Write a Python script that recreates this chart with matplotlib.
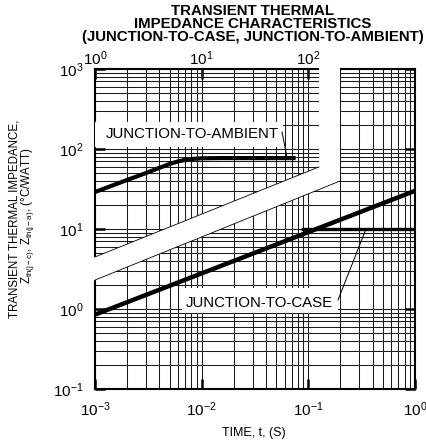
import matplotlib
matplotlib.use('Agg')
import matplotlib.pyplot as plt
import numpy as np
from matplotlib.patches import Polygon, Rectangle

plt.rcParams['font.family'] = ['Liberation Sans', 'DejaVu Sans']
plt.rcParams['mathtext.fontset'] = 'custom'
plt.rcParams['mathtext.rm'] = 'Liberation Sans'
plt.rcParams['mathtext.it'] = 'Liberation Sans:italic'
plt.rcParams['mathtext.bf'] = 'Liberation Sans:bold'

# ---------------- data ----------------
# junction-to-case (bottom time axis, seconds)
case_t = [1e-3, 1.0]
case_z = [0.85, 30.0]
case_flat_t = [0.085, 1.0]
case_flat_z = [10.0, 10.0]
# junction-to-ambient (top time axis, seconds)
amb_t = [1, 2, 3, 4, 5, 6, 7, 8, 10, 15, 30, 76]
amb_z = [29, 41, 50, 58, 65, 70, 73, 75, 76.5, 77, 77, 77]

bottom_ticks = [1e-3, 1e-2, 1e-1, 1]
bottom_labels = [r'$\mathregular{10^{-3}}$', r'$\mathregular{10^{-2}}$',
                 r'$\mathregular{10^{-1}}$', r'$\mathregular{10^{0}}$']
top_ticks = [1, 10, 100]
top_labels = [r'$\mathregular{10^{0}}$', r'$\mathregular{10^{1}}$', r'$\mathregular{10^{2}}$']
y_ticks = [0.1, 1, 10, 100, 1000]
y_labels = [r'$\mathregular{10^{-1}}$', r'$\mathregular{10^{0}}$', r'$\mathregular{10^{1}}$',
            r'$\mathregular{10^{2}}$', r'$\mathregular{10^{3}}$']

TOP_SHIFT = 1e3  # top axis = bottom axis x 1000

fig = plt.figure(figsize=(4.27, 4.42), dpi=100)
ax = fig.add_axes([95/427, 53/442, 320/427, 320/442])
ax.set_xscale('log')
ax.set_yscale('log')
ax.set_xlim(1e-3, 1)
ax.set_ylim(0.1, 1000)

ax.grid(True, which='both', color='#1a1a1a', lw=0.75)
ax.set_xticks(bottom_ticks, bottom_labels)
ax.set_yticks(y_ticks, y_labels)
ax.tick_params(which='major', direction='in', length=7, width=1.8,
               right=True, top=False, labelsize=11, pad=8)
ax.tick_params(which='minor', length=0)
for s in ax.spines.values():
    s.set_linewidth(1.5)

sec = ax.secondary_xaxis('top', functions=(lambda x: x*TOP_SHIFT, lambda x: x/TOP_SHIFT))
sec.set_xticks(top_ticks, top_labels)
sec.tick_params(which='major', direction='in', length=7, width=1.8, labelsize=11, pad=1)
sec.tick_params(which='minor', length=0)
sec.spines['top'].set_visible(False)

# ---------------- break band ----------------
def up(t):
    return 4.47 * (t / 1e-3) ** 0.536

def lo(t):
    return 2.30 * (t / 1e-3) ** 0.539

t_u, t_l, t0 = 0.126, 0.198, 0.93e-3
band = Polygon([(t0, up(t0)), (t_u, up(t_u)), (t_u, 1.12e3), (t_l, 1.12e3),
                (t_l, lo(t_l)), (t0, lo(t0))], closed=True, facecolor='white',
               edgecolor='none', zorder=3, clip_on=False)
ax.add_patch(band)
ax.plot([1e-3, t_u], [up(1e-3), up(t_u)], color='black', lw=0.6, zorder=4)
ax.plot([1e-3, t_l], [lo(1e-3), lo(t_l)], color='black', lw=0.6, zorder=4)

# ---------------- curves ----------------
ax.plot(case_t, case_z, color='black', lw=3.2, zorder=5, solid_capstyle='butt')
ax.plot(case_flat_t, case_flat_z, color='black', lw=2.4, zorder=5, solid_capstyle='butt')
ax.plot(np.array(amb_t) / TOP_SHIFT, amb_z, color='black', lw=3.0, zorder=5,
        solid_capstyle='butt')

# ---------------- labels ----------------
ax.add_patch(Rectangle((1e-3, 106), 0.0579 - 1e-3, 217.5 - 106, facecolor='white',
                       edgecolor='none', zorder=4))
ax.text(0.0082, 154, 'JUNCTION-TO-AMBIENT', fontsize=10.8, ha='center', va='center', zorder=6)
ax.plot([0.0566, 0.0631], [163, 79], color='black', lw=0.7, zorder=5)

ax.add_patch(Rectangle((0.00654, 0.891), 0.19 - 0.00654, 1.83 - 0.891, facecolor='white',
                       edgecolor='none', zorder=4))
ax.text(0.0345, 1.19, 'JUNCTION-TO-CASE', fontsize=10.8, ha='center', va='center', zorder=6)
ax.plot([0.19, 0.347], [1.30, 10], color='black', lw=0.7, zorder=5)

# titles
for txt, yp in [('TRANSIENT THERMAL', 11), ('IMPEDANCE CHARACTERISTICS', 24),
                ('(JUNCTION-TO-CASE, JUNCTION-TO-AMBIENT)', 37)]:
    fig.text(253/427, 1 - yp/442, txt, fontsize=10.8, fontweight='bold',
             ha='center', va='center')

fig.text(254/427, 1 - 433/442, 'TIME, t, (S)', fontsize=9, ha='center', va='center')
fig.text(15/427, 1 - 219/442, 'TRANSIENT THERMAL IMPEDANCE,', fontsize=8.3,
         rotation=90, ha='center', va='center')
fig.text(28/427, 1 - 216/442,
         r'$\mathregular{Z_{th(j-c)}}$, $\mathregular{Z_{th(j-a)}}$, (°C/WATT)',
         fontsize=8.3, rotation=90, ha='center', va='center')

fig.savefig('out.png', dpi=100)
